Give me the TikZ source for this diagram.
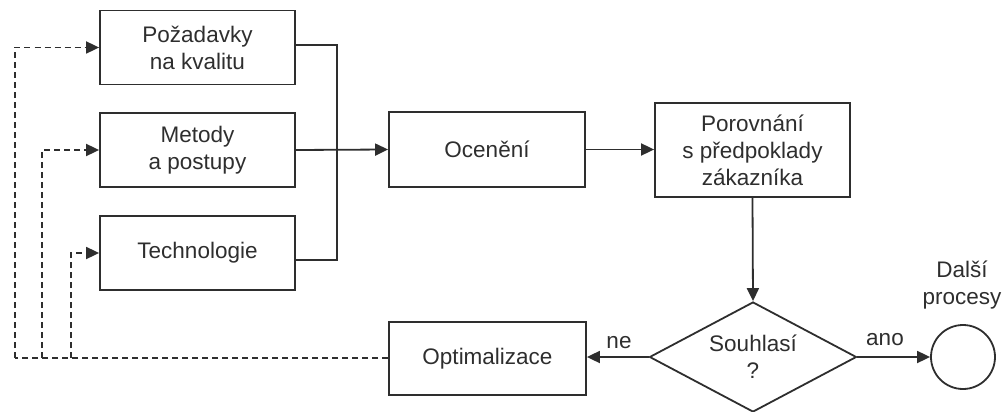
\documentclass[tikz,border=0pt]{standalone}
\usepackage{fontspec}
\setmainfont{Liberation Sans}
\usetikzlibrary{shapes.geometric,arrows.meta,calc}
\definecolor{ink}{HTML}{2E2E2E}
\begin{document}
\begin{tikzpicture}[x=1pt,y=-1pt,
  every node/.style={text=ink,font=\fontsize{22.5}{27}\selectfont},
  box/.style={draw=ink,line width=1.8pt,rectangle,minimum width=195pt,minimum height=74pt,align=center,inner sep=0pt},
  conn/.style={draw=ink,line width=1.8pt},
  arr/.style={conn,-{Triangle[length=13pt,width=12pt]}},
  darr/.style={conn,dash pattern=on 6pt off 4pt,-{Triangle[length=13pt,width=12pt]}},
  dline/.style={conn,dash pattern=on 6pt off 4pt}]
\useasboundingbox (0,0) rectangle (1005,412);
\node[box] (b1) at (197.5,47.5) {Požadavky\\na kvalitu};
\node[box] (b2) at (197.5,150) {Metody\\a postupy};
\node[box] (b3) at (197.5,253) {Technologie};
\node[box,minimum width=196pt,minimum height=75pt] (oc) at (487,149.5) {Ocenění};
\node[box,minimum height=94pt] (po) at (752.5,150) {Porovnání\\s předpoklady\\zákazníka};
\node[box,minimum width=197pt,minimum height=73pt] (op) at (487.5,358.5) {Optimalizace};
\node[draw=ink,line width=1.8pt,diamond,aspect=1.88,minimum width=207pt,minimum height=110pt,inner sep=0pt,align=center] (di) at (753,357) {Souhlasí\\?};
\node[draw=ink,line width=1.8pt,circle,minimum size=64pt,inner sep=0pt] (ci) at (963,357) {};
\node[align=center] (dp) at (962,285) {Další\\procesy};
\node (ne) at (619,343) {ne};
\node (ano) at (885,340) {ano};
\draw[conn] ($(b1.east)+(0,-2.5)$) -| (337,260) -- ($(b3.east)+(0,7)$);
\draw[arr] (b2.east) -- (oc.west);
\draw[arr] (oc.east) -- (po.west |- oc.east);
\draw[arr] (po.south) -- (di.north);
\draw[arr] (di.west) -- (op.east |- di.west);
\draw[arr] (di.east) -- (ci.west);
\coordinate (c1) at (15,358);
\coordinate (c2) at (42,358);
\coordinate (c3) at (71,358);
\draw[dline] (op.west |- c1) -- (c1);
\draw[darr] (c1) |- (b1.west);
\draw[darr] (c2) |- (b2.west);
\draw[darr] (c3) |- (b3.west);
\end{tikzpicture}
\end{document}
